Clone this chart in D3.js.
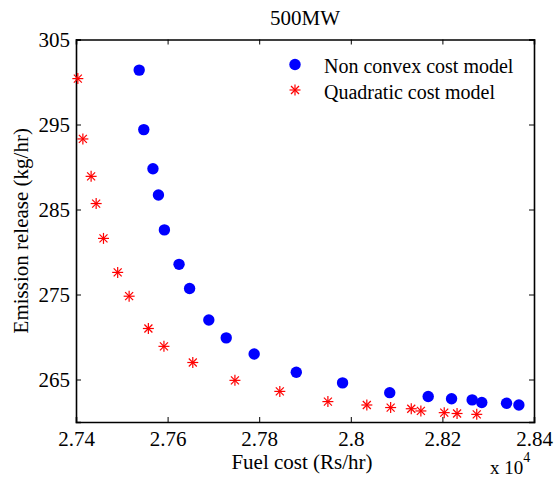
<!DOCTYPE html>
<html>
<head>
<meta charset="utf-8">
<script src="https://cdn.jsdelivr.net/npm/d3@7"></script>
<style>
  body { margin: 0; background: #fff; }
  text { font-family: "Liberation Serif", "Times New Roman", serif; fill: #000; }
</style>
</head>
<body>
<div id="chart"></div>
<script>
// Non convex cost model (fuel cost x 10^4, emission)
const nonConvexCost = [2.7538, 2.7548, 2.7568, 2.758, 2.7593, 2.7625, 2.7648, 2.769, 2.7728, 2.7789,
  2.7881, 2.7982, 2.8085, 2.8169, 2.822, 2.8265, 2.8286, 2.834, 2.8367];
const nonConvexEmission = [301.4, 294.4, 289.8, 286.7, 282.6, 278.55, 275.7, 272.0, 269.9, 268.0,
  265.85, 264.6, 263.45, 263.0, 262.74, 262.6, 262.3, 262.2, 262.0];

// Quadratic cost model
const quadCost = [2.7404, 2.7415, 2.7433, 2.7444, 2.746, 2.7491, 2.7516, 2.7558, 2.7592, 2.7655,
  2.7747, 2.7845, 2.795, 2.8035, 2.8087, 2.8132, 2.8153, 2.8204, 2.8232, 2.8275];
const quadEmission = [300.4, 293.3, 288.9, 285.7, 281.6, 277.6, 274.8, 271.0, 268.9, 267.0,
  264.9, 263.6, 262.4, 262.0, 261.7, 261.56, 261.3, 261.1, 261.0, 260.9];

const xTicks = [2.74, 2.76, 2.78, 2.8, 2.82, 2.84];
const yTicks = [265, 275, 285, 295, 305];
const seriesNames = ["Non convex cost model", "Quadratic cost model"];

const width = 555, height = 477;
const margin = {top: 39.5, right: 21, bottom: 55, left: 76};
const serif = '"Liberation Serif", "Times New Roman", serif';

const svg = d3.select("#chart").append("svg")
  .attr("width", width)
  .attr("height", height);

const x = d3.scaleLinear().domain([2.74, 2.84]).range([margin.left, width - margin.right]);
const y = d3.scaleLinear().domain([260, 305]).range([height - margin.bottom, margin.top]);

const fmt = d => String(+d.toFixed(2));

// axes, ticks pointing inward (matlab style box)
const xAxis = svg.append("g")
  .attr("transform", `translate(0,${y(260)})`)
  .call(d3.axisBottom(x).tickValues(xTicks).tickSize(-5).tickPadding(9).tickFormat(fmt));
const xTop = svg.append("g")
  .attr("transform", `translate(0,${y(305)})`)
  .call(d3.axisTop(x).tickValues(xTicks).tickSize(-5).tickFormat(""));
const yAxis = svg.append("g")
  .attr("transform", `translate(${x(2.74)},0)`)
  .call(d3.axisLeft(y).tickValues(yTicks).tickSize(-5).tickPadding(6));
const yRight = svg.append("g")
  .attr("transform", `translate(${x(2.84)},0)`)
  .call(d3.axisRight(y).tickValues(yTicks).tickSize(-5).tickFormat(""));

[xAxis, xTop, yAxis, yRight].forEach(g => {
  g.attr("font-family", serif).attr("font-size", 21);
  g.select(".domain").attr("stroke", "#000").attr("stroke-width", 1.6);
  g.selectAll(".tick line").attr("stroke", "#000");
  g.selectAll("text")
    .style("font-family", serif)
    .style("font-size", "21px")
    .attr("fill", "#000");
});
xAxis.selectAll("text").attr("dy", "0.71em");

// title + labels
svg.append("text")
  .attr("x", (x(2.74) + x(2.84)) / 2)
  .attr("y", 25)
  .attr("text-anchor", "middle")
  .style("font-size", "21px")
  .text("500MW");

svg.append("text")
  .attr("x", (x(2.74) + x(2.84)) / 2 - 3)
  .attr("y", 469)
  .attr("text-anchor", "middle")
  .style("font-size", "21px")
  .text("Fuel cost (Rs/hr)");

svg.append("text")
  .attr("transform", `translate(28,${(y(260) + y(305)) / 2}) rotate(-90)`)
  .attr("text-anchor", "middle")
  .style("font-size", "21px")
  .text("Emission release (kg/hr)");

// x 10^4 multiplier
const mult = svg.append("text")
  .attr("x", 490)
  .attr("y", 474)
  .style("font-size", "19px");
mult.append("tspan").text("x 10");
mult.append("tspan").attr("dy", -12).style("font-size", "14px").text("4");

// star marker (plus + cross)
function drawStar(g, cx, cy) {
  const s = g.append("g").attr("transform", `translate(${cx},${cy})`)
    .attr("stroke", "#ff0000").attr("stroke-width", 1.2);
  const r = 5.5, d = 4;
  s.append("line").attr("x1", -r).attr("x2", r).attr("y1", 0).attr("y2", 0);
  s.append("line").attr("x1", 0).attr("x2", 0).attr("y1", -r).attr("y2", r);
  s.append("line").attr("x1", -d).attr("x2", d).attr("y1", -d).attr("y2", d);
  s.append("line").attr("x1", -d).attr("x2", d).attr("y1", d).attr("y2", -d);
}

const blue = nonConvexCost.map((c, i) => ({c, e: nonConvexEmission[i]}));
const red = quadCost.map((c, i) => ({c, e: quadEmission[i]}));

svg.append("g").selectAll("circle")
  .data(blue)
  .enter().append("circle")
  .attr("cx", d => x(d.c))
  .attr("cy", d => y(d.e))
  .attr("r", 5.7)
  .attr("fill", "#0000ff");

const starG = svg.append("g");
red.forEach(d => drawStar(starG, x(d.c), y(d.e)));

// legend
const leg = svg.append("g");
leg.append("circle").attr("cx", 295).attr("cy", 64.5).attr("r", 5.7).attr("fill", "#0000ff");
drawStar(leg, 295, 90);
leg.selectAll("text.lg")
  .data(seriesNames)
  .enter().append("text")
  .attr("class", "lg")
  .attr("x", 324)
  .attr("y", (d, i) => 72.5 + i * 26.5)
  .style("font-size", "20px")
  .text(d => d);
</script>
</body>
</html>
